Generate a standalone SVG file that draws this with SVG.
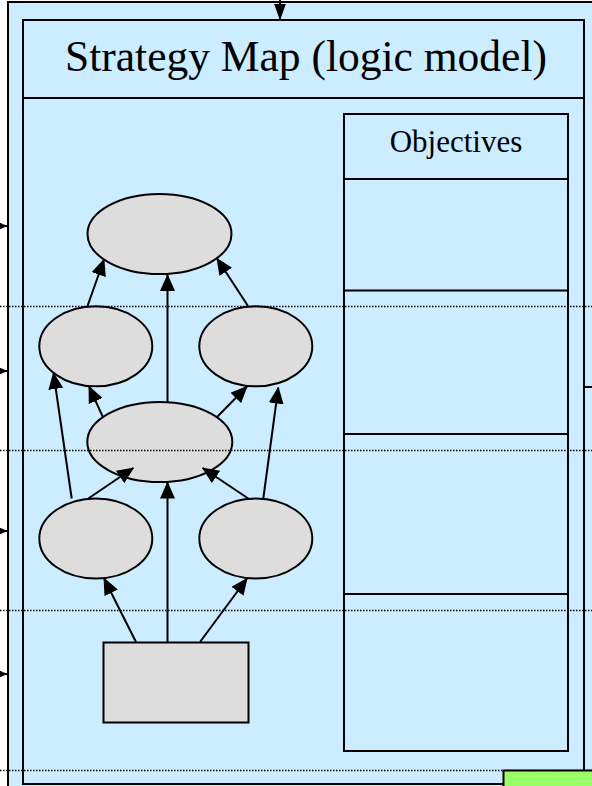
<svg xmlns="http://www.w3.org/2000/svg" width="592" height="786" viewBox="0 0 592 786">
<defs>
<style>
.frame{fill:#CCECFF;stroke:#000;stroke-width:2}
.sep{stroke:#000;stroke-width:2;fill:none}
.node{fill:#DDDDDD;stroke:#000;stroke-width:2}
.conn{stroke:#000;stroke-width:2;fill:none}
.dot{stroke:#000;stroke-width:1.5;stroke-dasharray:1.5 1.5;fill:none}
.title{font-family:"Liberation Serif","Times New Roman",serif;fill:#000}
</style>
<marker id="ah" markerUnits="userSpaceOnUse" markerWidth="17" markerHeight="15" viewBox="0 0 17 15" refX="16" refY="7.5" orient="auto">
<path d="M0,0 L17,7.5 L0,15 z" fill="#000"/>
</marker>
<marker id="ahs" markerUnits="userSpaceOnUse" markerWidth="9" markerHeight="8" viewBox="0 0 9 8" refX="8.5" refY="4" orient="auto">
<path d="M0,0 L9,4 L0,8 z" fill="#000"/>
</marker>
<marker id="aht" markerUnits="userSpaceOnUse" markerWidth="17" markerHeight="12" viewBox="0 0 17 12" refX="16.5" refY="6" orient="auto">
<path d="M0,0 L17,6 L0,12 z" fill="#000"/>
</marker>
</defs>

<g id="outer-frame">
<rect class="frame" x="8" y="2" width="620" height="820"/>
</g>

<g id="strategy-map">
<rect class="frame" x="23" y="20" width="561" height="764"/>
<line class="sep" x1="23" y1="98" x2="584" y2="98"/>
<text class="title" x="306" y="71" font-size="43.5" text-anchor="middle">Strategy Map (logic model)</text>
</g>

<g id="objectives">
<rect class="frame" x="344" y="114" width="224" height="637"/>
<line class="sep" x1="344" y1="179" x2="568" y2="179"/>
<line class="sep" x1="344" y1="290.5" x2="568" y2="290.5"/>
<line class="sep" x1="344" y1="434" x2="568" y2="434"/>
<line class="sep" x1="344" y1="594" x2="568" y2="594"/>
<text class="title" x="456" y="152" font-size="31" text-anchor="middle">Objectives</text>
</g>

<g id="node-top"><ellipse class="node" cx="159.5" cy="234" rx="72" ry="40"/></g>
<g id="node-mid-left"><ellipse class="node" cx="95.8" cy="346.3" rx="56.5" ry="40"/></g>
<g id="node-mid-right"><ellipse class="node" cx="255.8" cy="346.3" rx="56.5" ry="40"/></g>
<g id="node-center"><ellipse class="node" cx="159.8" cy="442" rx="72.5" ry="40"/></g>
<g id="node-low-left"><ellipse class="node" cx="95.8" cy="538.5" rx="56.5" ry="40"/></g>
<g id="node-low-right"><ellipse class="node" cx="255.8" cy="538.5" rx="56.5" ry="40"/></g>
<g id="node-base"><rect class="node" x="103.5" y="642.5" width="145" height="80"/></g>

<g id="connectors">
<line class="conn" x1="87.5" y1="306" x2="104" y2="259.5" marker-end="url(#ah)"/>
<line class="conn" x1="167.5" y1="402" x2="167.5" y2="275" marker-end="url(#ah)"/>
<line class="conn" x1="248" y1="306" x2="217" y2="258.5" marker-end="url(#ah)"/>
<line class="conn" x1="102.7" y1="416.7" x2="89" y2="386.5" marker-end="url(#ah)"/>
<line class="conn" x1="217.3" y1="416.7" x2="247" y2="386.5" marker-end="url(#ah)"/>
<line class="conn" x1="71.7" y1="498.5" x2="53.5" y2="373" marker-end="url(#ah)"/>
<line class="conn" x1="263.3" y1="498.5" x2="278.3" y2="387.5" marker-end="url(#ah)"/>
<line class="conn" x1="88.3" y1="498.5" x2="133.3" y2="468" marker-end="url(#ah)"/>
<line class="conn" x1="248.3" y1="498.5" x2="202.7" y2="468" marker-end="url(#ah)"/>
<line class="conn" x1="167.5" y1="642" x2="167.5" y2="482.5" marker-end="url(#ah)"/>
<line class="conn" x1="136" y1="642" x2="104" y2="578.5" marker-end="url(#ah)"/>
<line class="conn" x1="200" y1="642" x2="247" y2="578.5" marker-end="url(#ah)"/>
<line class="conn" x1="280" y1="-10" x2="280" y2="20" marker-end="url(#aht)"/>
<line class="conn" x1="-20" y1="226" x2="7" y2="226" marker-end="url(#ahs)"/>
<line class="conn" x1="-20" y1="371" x2="7" y2="371" marker-end="url(#ahs)"/>
<line class="conn" x1="-20" y1="531" x2="7" y2="531" marker-end="url(#ahs)"/>
<line class="conn" x1="-20" y1="674" x2="7" y2="674" marker-end="url(#ahs)"/>
<line class="conn" x1="584" y1="387" x2="600" y2="387"/>
</g>

<g id="lane-lines">
<line class="dot" x1="0" y1="306.5" x2="592" y2="306.5"/>
<line class="dot" x1="0" y1="450.5" x2="592" y2="450.5"/>
<line class="dot" x1="0" y1="610.5" x2="592" y2="610.5"/>
<line class="dot" x1="0" y1="770.5" x2="592" y2="770.5"/>
</g>

<g id="green-box">
<rect x="503.5" y="770.5" width="120" height="40" fill="#99FF66" stroke="#000" stroke-width="2"/>
</g>
</svg>
